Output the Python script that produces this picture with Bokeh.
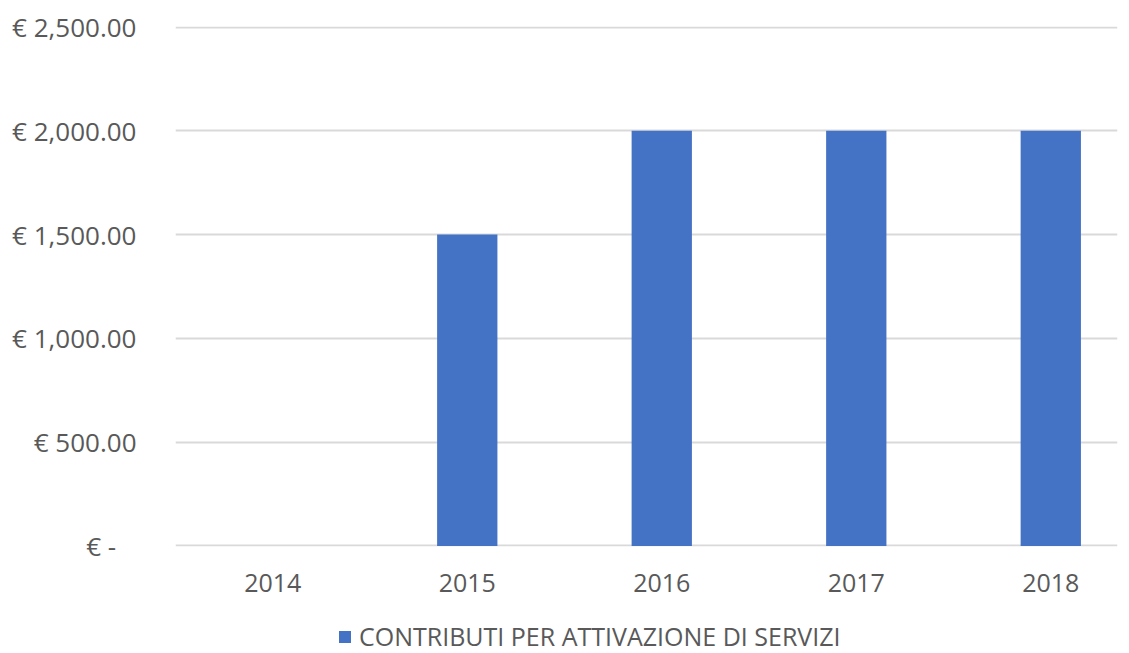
from bokeh.plotting import figure
from bokeh.layouts import column
from bokeh.models import Range1d, FixedTicker, Legend, LegendItem, ColumnDataSource
from bokeh.embed import file_html
from bokeh.resources import INLINE

years = ["2014", "2015", "2016", "2017", "2018"]
values = [0, 1500, 2000, 2000, 2000]
series_name = "CONTRIBUTI PER ATTIVAZIONE DI SERVIZI"
y_ticks = [0, 500, 1000, 1500, 2000, 2500]
y_labels = ["€ -\u00a0\u00a0\u00a0", "€ 500.00", "€ 1,000.00", "€ 1,500.00", "€ 2,000.00", "€ 2,500.00"]

FONT = "Open Sans"
TXT = "#595959"
BAR = "#4472C4"

xs = list(range(len(years)))
src = ColumnDataSource(dict(x=xs, top=values))

p = figure(width=1129, height=612, output_backend="svg", toolbar_location=None,
           x_range=Range1d(-0.5, 4.343), y_range=Range1d(-3, 2503),
           min_border_left=175, min_border_right=12, min_border_top=26, min_border_bottom=66)
p.outline_line_color = None

r = p.vbar(x="x", top="top", width=0.31, source=src, fill_color=BAR, line_color=None)

p.xaxis.ticker = FixedTicker(ticks=xs)
p.xaxis.major_label_overrides = {i: y for i, y in enumerate(years)}
p.yaxis.ticker = FixedTicker(ticks=y_ticks)
p.yaxis.major_label_overrides = {t: l for t, l in zip(y_ticks, y_labels)}

for ax in (p.xaxis[0], p.yaxis[0]):
    ax.axis_line_color = None
    ax.major_tick_line_color = None
    ax.minor_tick_line_color = None
    ax.major_label_text_font = FONT
    ax.major_label_text_color = TXT
p.xaxis.major_label_text_font_size = "25px"
p.yaxis.major_label_text_font_size = "26px"
p.yaxis.major_label_standoff = 33
p.xaxis.major_label_standoff = 21

p.xgrid.grid_line_color = None
p.ygrid.ticker = FixedTicker(ticks=y_ticks)
p.ygrid.grid_line_color = "#d9d9d9"
p.ygrid.grid_line_width = 2

# legend strip below the chart (frame aligned with the main chart's frame);
# its bar renderer lies far below the strip's visible range, only the legend shows
lg = figure(width=1129, height=41, output_backend="svg", toolbar_location=None,
            x_axis_type=None, y_axis_type=None, min_border=0,
            x_range=Range1d(-0.5, 4.343), y_range=Range1d(30000, 30001))
lg.outline_line_color = None
lg.border_fill_color = None
lg.xgrid.grid_line_color = None
lg.ygrid.grid_line_color = None
lr = lg.vbar(x="x", top="top", width=0.31, source=src, fill_color=BAR, line_color=None)

legend = Legend(items=[LegendItem(label=series_name, renderers=[lr])],
                orientation="horizontal", location=(162, 0),
                label_text_font=FONT, label_text_font_size="25px", label_text_color=TXT,
                glyph_width=15, glyph_height=15, label_standoff=7,
                border_line_color=None, background_fill_alpha=0, padding=0, margin=0)
lg.add_layout(legend)

layout = column(p, lg, spacing=0)
open("out.html", "w").write(file_html(layout, INLINE))
